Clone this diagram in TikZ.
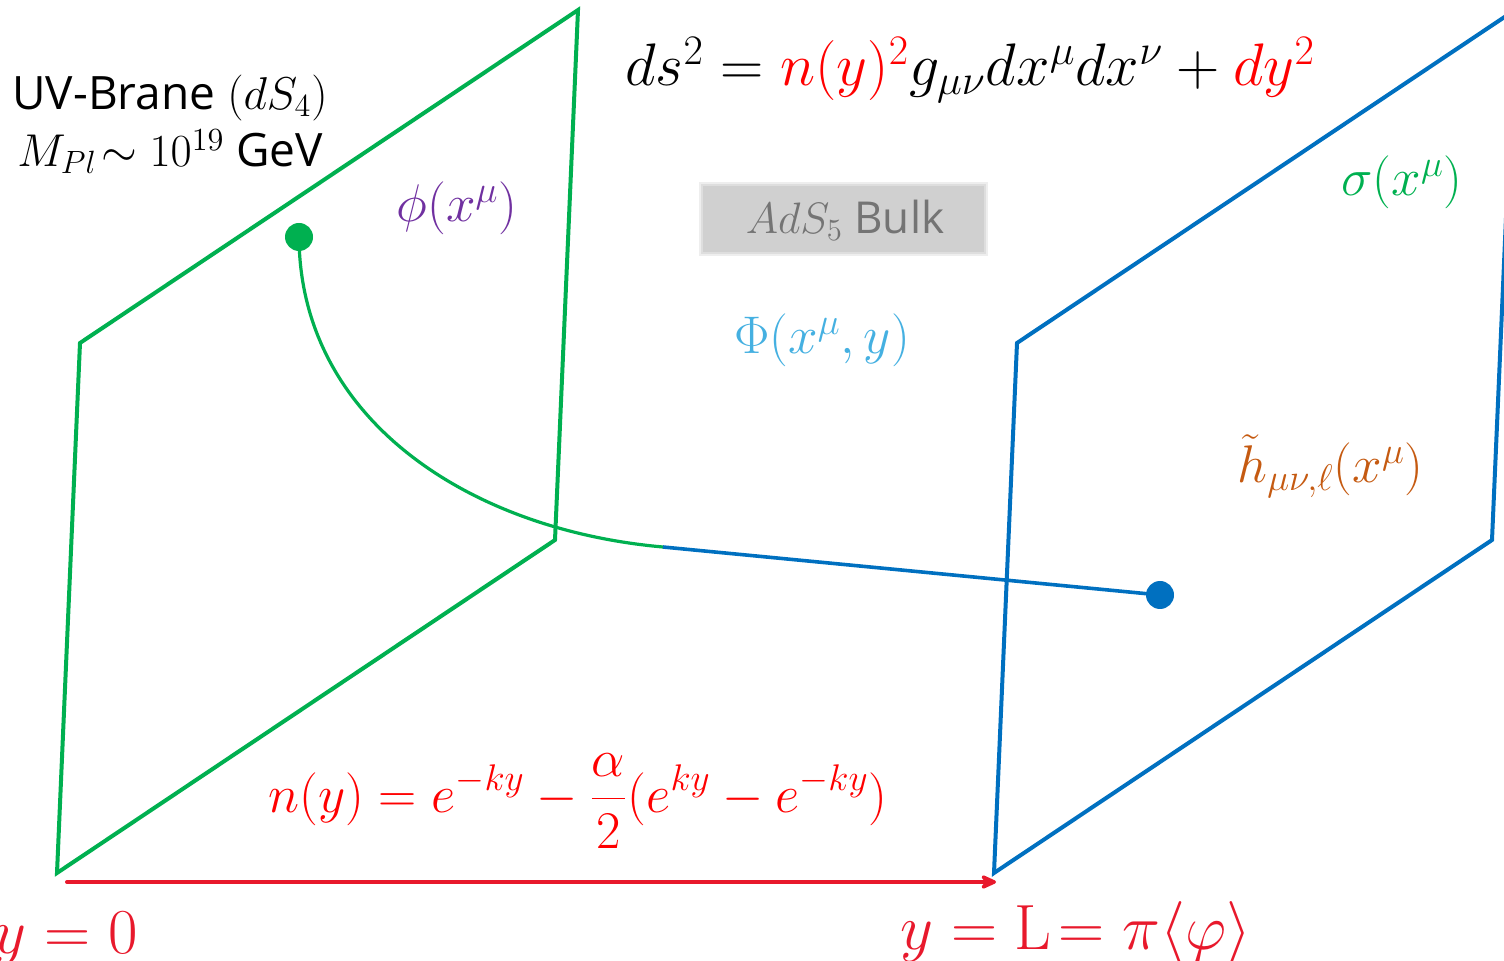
\RequirePackage{fix-cm}
\documentclass[tikz,border=0pt]{standalone}
\usepackage{fontspec}
\setsansfont{Open Sans}
\usetikzlibrary{arrows.meta}
\definecolor{bgreen}{HTML}{00B050}
\definecolor{bblue}{HTML}{0070C0}
\definecolor{mred}{HTML}{FF0000}
\definecolor{ared}{HTML}{E8192C}
\definecolor{mpurple}{HTML}{7030A0}
\definecolor{lblue}{HTML}{45B0E1}
\definecolor{morange}{HTML}{C55A11}
\definecolor{bulkgray}{HTML}{D0D0D0}
\definecolor{bulktext}{HTML}{747474}
\tikzset{
  plane/.style={line width=2pt, line join=miter},
  txt/.style={inner sep=0pt, font=\sffamily\fontsize{23}{27}\selectfont},
  mth/.style={inner sep=0pt, font=\fontsize{26.5}{31}\selectfont},
  bigm/.style={inner sep=0pt, font=\fontsize{32}{38}\selectfont},
  dotnode/.style={circle, inner sep=0pt, minimum size=14pt},
}
\begin{document}
\begin{tikzpicture}[x=0.5pt,y=-0.5pt]
\useasboundingbox (0,0) rectangle (1504,961);
\clip (0,0) rectangle (1504,961);
% planes
\coordinate (g1) at (80,343); \coordinate (g2) at (578,10);
\coordinate (g3) at (555,540); \coordinate (g4) at (57,873);
\coordinate (b1) at (1017,343); \coordinate (b2) at (1515,10);
\coordinate (b3) at (1492,540); \coordinate (b4) at (994,873);
\draw[plane, bgreen] (g1) -- (g2) -- (g3) -- (g4) -- cycle;
\draw[plane, bblue] (b1) -- (b2) -- (b3) -- (b4) -- cycle;
% bulk box
\fill[bulkgray!35] (699,182) rectangle (988,256);
\fill[bulkgray!70] (701,184) rectangle (986,254);
\fill[bulkgray] (703,186) rectangle (984,252);
\node[inner sep=0pt, font=\sffamily\fontsize{22}{26}\selectfont, text=bulktext] (bulk) at (845,220) {$AdS_5$ Bulk};
% dots and connector
\node[dotnode, fill=bgreen] (gdot) at (299,237) {};
\node[dotnode, fill=bblue] (bdot) at (1160,595) {};
\coordinate (mid) at (663,547);
\draw[bgreen, line width=1.6pt] (gdot.center) .. controls (300,420) and (470,530) .. (mid);
\draw[bblue, line width=1.8pt] (mid) -- (bdot.center);
% arrow
\coordinate (a0) at (67,882); \coordinate (aL) at (996,882);
\draw[ared, line width=2pt, line cap=round, -{Stealth[length=10pt,width=9pt,round]}] (a0) -- (aL);
% labels
\node[txt, anchor=base west] (uv) at (12,110) {UV-Brane $(dS_4)$};
\node[txt, anchor=base west] (mpl) at (17,167) {$M_{Pl}\!\sim$ $10^{19}$ GeV};
\node[inner sep=0pt, font=\fontsize{30}{35}\selectfont, anchor=base west] (metric) at (625,86)
  {$ds^2={\color{mred}n(y)^2}g_{\mu\nu}dx^\mu dx^\nu+{\color{mred}dy^2}$};
\node[mth, text=mpurple] (phi) at (457,208) {$\phi(x^\mu)$};
\node[mth, text=lblue] (Phi) at (822,340) {$\Phi(x^\mu,y)$};
\node[mth, text=bgreen] (sigma) at (1402,182) {$\sigma(x^\mu)$};
\node[mth, text=morange, anchor=base west] (h) at (1237,483) {$\tilde h_{\mu\nu,\ell}(x^\mu)$};
\node[inner sep=0pt, font=\fontsize{26.5}{31}\selectfont, text=mred, anchor=base west] (ny) at (268,812)
  {$\displaystyle n(y)=e^{-ky}-\frac{\alpha}{2}(e^{ky}-e^{-ky})$};
\node[bigm, text=ared, anchor=base east] (y0) at (138,953) {$y=0$};
\node[bigm, text=ared, anchor=base west] (yL) at (900,949) {$y=\mathrm{L}\!=\pi\langle\varphi\rangle$};
\end{tikzpicture}
\end{document}
